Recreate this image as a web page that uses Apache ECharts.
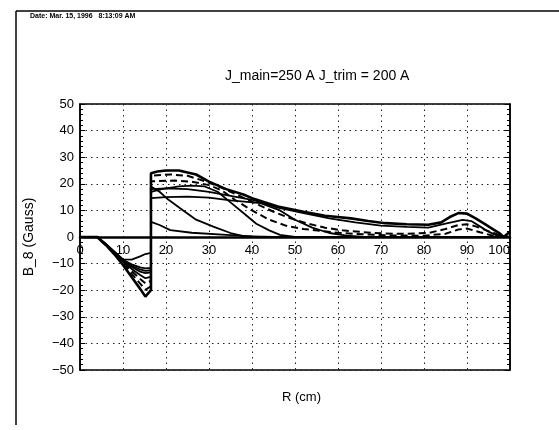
<!DOCTYPE html>
<html>
<head>
<meta charset="utf-8">
<script src="https://cdn.jsdelivr.net/npm/echarts@6/dist/echarts.min.js"></script>
<style>
html,body{margin:0;padding:0;background:#fff;}
#c{width:559px;height:430px;}
</style>
</head>
<body>
<div id="c"></div>
<script>
// ---- data (R in cm, B_8 in Gauss) ----
const xTicks = [0, 10, 20, 30, 40, 50, 60, 70, 80, 90, 100];
const yTicks = [-50, -40, -30, -20, -10, 0, 10, 20, 30, 40, 50];

const curveH = [[0,0],[4,0],[6,-3],[8,-6.5],[10,-10.5],[12,-15],[14,-19.5],[15.2,-22.4],[16.5,-20],[16.5,24],[18,24.6],[20,25],[23,25],[27,23.5],[30,20.8],[34,18],[38,16],[40,14.6],[46,11.5],[52,9.5],[57,8],[63,7],[67,6],[71,5.2],[76,4.8],[81,4.6],[84,5.5],[86,7.5],[88,9],[90,8.8],[92,7],[94,5],[96,3],[97.5,1.5],[98.5,0],[99.3,1],[100,2]];
const curveG = [[0,0],[4,0],[6,-3],[8,-6.3],[10,-10],[12,-13.8],[14,-17.5],[15.2,-19.9],[16.5,-18.5],[16.5,23],[18,23.2],[21,23.5],[25,23],[29,21],[33,18.5],[37,15.5],[41,12.5],[45,9.5],[49,7],[53,5],[57,3.5],[61,2.5],[66,1.8],[71,1.3],[76,1.2],[81,1.5],[85,3],[88,4.5],[90,4.8],[92,4],[95,2.2],[98,0.5],[100,0]];
const curveF = [[0,0],[4,0],[6,-2.9],[8,-6.1],[10,-9.6],[12,-12.8],[14,-15.8],[15.2,-17.4],[16.5,-16.5],[16.5,21],[18,21],[22,21.2],[26,20.8],[30,19.5],[33,17.5],[36,14],[40,10],[44,6.5],[48,4.2],[52,3],[56,2.3],[60,1.6],[66,1],[72,0.6],[80,0.5],[85,1.2],[88,2.8],[90,3.2],[93,1.8],[96,0.5],[100,0]];
const curveE = [[0,0],[4,0],[6,-2.8],[8,-6],[10,-9.3],[12,-12],[14,-14.3],[15.2,-15.5],[16.5,-15],[16.5,18],[20,18.3],[25,18],[30,17],[35,15.5],[40,14],[46,11],[52,9],[58,7],[64,5.5],[70,4.3],[76,3.8],[81,3.5],[85,5],[89,6.4],[91,6],[93,4],[95,2],[97,0.5],[100,0]];
const curveC = [[0,0],[4,0],[6,-2.7],[8,-5.8],[10,-9],[12,-11.3],[14,-13],[15.2,-13.6],[16.5,-13.3],[16.5,19],[18.5,17],[20.2,14.5],[24,10],[27,6.5],[31,3.9],[35,1.5],[38,0.3],[42,0],[100,0]];
const curveD = [[0,0],[4,0],[6,-2.7],[8,-5.7],[10,-8.8],[12,-10.8],[14,-12.2],[15.2,-12.7],[16.5,-12.5],[16.5,17],[19,18],[23,19],[26,19.3],[29,19],[32,17],[35,13],[38,9],[41,5],[44,2.5],[46.5,0.8],[50,0],[100,0]];
const curveB = [[0,0],[4,0],[6,-2.6],[8,-5.6],[10,-8.6],[12,-10.3],[14,-11.4],[15.2,-11.8],[16.5,-11.6],[16.5,14.6],[20,15],[25,15.2],[30,14.8],[35,13.8],[42,12.7],[46.5,10],[50,6.5],[54,3.5],[58,1.5],[62,0.5],[66,0],[100,0]];
const curveA = [[0,0],[4,0],[6,-2.6],[8,-5.5],[10,-8.4],[12,-8.5],[14,-7.3],[15.2,-6.4],[16.5,-6],[16.5,5.7],[18.5,4.5],[21,2.6],[26,1.6],[34,0.8],[40,0.2],[45,0],[100,0]];

const solidCurves = [curveA, curveB, curveC, curveD, curveE];
const dashedCurves = [curveF, curveG];

const FONT = 'Liberation Sans';

const chart = echarts.init(document.getElementById('c'), null, {renderer: 'canvas'});

const dotted = {color: '#222', width: 1, type: [1.5, 4]};

const series = [];
solidCurves.forEach(function (d) {
  series.push({type: 'line', data: d, symbol: 'none', silent: true,
    lineStyle: {color: '#000', width: 1.8}});
});
dashedCurves.forEach(function (d) {
  series.push({type: 'line', data: d, symbol: 'none', silent: true,
    lineStyle: {color: '#000', width: 2, type: [7, 4]}});
});
series.push({type: 'line', data: curveH, symbol: 'none', silent: true,
  lineStyle: {color: '#000', width: 2.6}});

chart.setOption({
  animation: false,
  backgroundColor: '#fff',
  textStyle: {fontFamily: FONT},
  title: {
    text: 'J_main=250 A J_trim = 200 A',
    left: 220, top: 64,
    textStyle: {fontSize: 14, fontWeight: 'normal', color: '#000', fontFamily: FONT}
  },
  grid: {left: 80, right: 49, top: 104, bottom: 60, show: true,
    borderColor: '#000', borderWidth: 1.5, backgroundColor: 'transparent'},
  xAxis: {
    type: 'value', min: xTicks[0], max: xTicks[xTicks.length - 1], interval: 10,
    position: 'bottom', offset: -133,
    axisLine: {onZero: false, lineStyle: {color: '#000', width: 2.5}},
    axisTick: {show: false},
    axisLabel: {color: '#000', fontSize: 13, margin: 7, fontFamily: FONT, alignMaxLabel: 'right'},
    splitLine: {show: true, lineStyle: dotted}
  },
  yAxis: [{
    type: 'value', min: yTicks[0], max: yTicks[yTicks.length - 1], interval: 10,
    name: 'B_8 (Gauss)', nameLocation: 'middle', nameGap: 44,
    nameTextStyle: {fontSize: 14, color: '#000', fontFamily: FONT},
    axisLine: {show: true, onZero: false, lineStyle: {color: '#000', width: 1.5}},
    axisTick: {show: true, inside: true, length: 5, lineStyle: {color: '#000'}},
    minorTick: {show: true, splitNumber: 5, length: 3, lineStyle: {color: '#000'}},
    axisLabel: {color: '#000', fontSize: 13, margin: 6, fontFamily: FONT,
      formatter: function (v) { return String(v).replace('-', '\u2212'); }},
    splitLine: {show: true, lineStyle: dotted}
  }, {
    type: 'value', min: yTicks[0], max: yTicks[yTicks.length - 1], interval: 10,
    position: 'right',
    axisLine: {show: true, onZero: false, lineStyle: {color: '#000', width: 1.5}},
    axisTick: {show: true, inside: true, length: 5, lineStyle: {color: '#000'}},
    minorTick: {show: true, splitNumber: 5, length: 3, lineStyle: {color: '#000'}},
    axisLabel: {show: false},
    splitLine: {show: false}
  }],
  series: series,
  graphic: [
    {type: 'line', shape: {x1: 16, y1: 11, x2: 559, y2: 11}, style: {stroke: '#000', lineWidth: 1.5}, silent: true},
    {type: 'line', shape: {x1: 16, y1: 11, x2: 16, y2: 425}, style: {stroke: '#000', lineWidth: 1.5}, silent: true},
    {type: 'text', left: 30, top: 13, style: {text: 'Date: Mar. 15, 1996   8:13:09 AM', fontSize: 7, fontWeight: 'bold', fill: '#000', fontFamily: FONT}, silent: true},
    {type: 'text', left: 282, top: 391, style: {text: 'R (cm)', fontSize: 13, fill: '#000', fontFamily: FONT}, silent: true}
  ]
});
</script>
</body>
</html>
